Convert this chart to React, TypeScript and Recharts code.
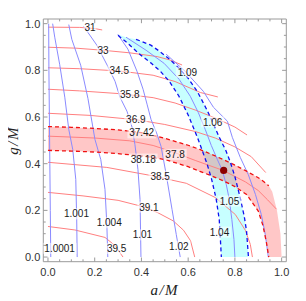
import React from "react";
import { ComposedChart, XAxis, YAxis, Line, Area, Scatter, ReferenceArea } from "recharts";

// ---------------- data ----------------
const tickValues = [0, 0.05, 0.1, 0.15, 0.2, 0.25, 0.3, 0.35, 0.4, 0.45, 0.5, 0.55, 0.6, 0.65, 0.7, 0.75, 0.8, 0.85, 0.9, 0.95, 1.0];
const majorTickValues = [0, 0.2, 0.4, 0.6, 0.8, 1.0];
const majorTickLabels = ["0.0", "0.2", "0.4", "0.6", "0.8", "1.0"];

// red contours (roughly horizontal), [a/M, g/M]
const red31 = [[0, 0.985], [0.136, 0.984], [0.2, 0.979], [0.232, 0.973]];
const red33 = [[0, 0.899], [0.12, 0.895], [0.236, 0.886], [0.35, 0.875], [0.467, 0.859], [0.52, 0.845], [0.574, 0.823]];
const red34_5 = [[0, 0.811], [0.136, 0.807], [0.308, 0.797], [0.45, 0.779], [0.544, 0.752], [0.652, 0.705], [0.727, 0.686]];
const red35_8 = [[0, 0.719], [0.136, 0.712], [0.308, 0.7], [0.45, 0.683], [0.544, 0.66], [0.63, 0.63], [0.72, 0.594], [0.8, 0.557], [0.852, 0.523]];
const red36_9 = [[0, 0.616], [0.18, 0.607], [0.38, 0.588], [0.5, 0.568], [0.63, 0.538], [0.716, 0.51], [0.8, 0.472], [0.87, 0.43], [0.932, 0.362]];
const red37_8 = [[0, 0.518], [0.2, 0.51], [0.35, 0.498], [0.45, 0.478], [0.544, 0.447], [0.63, 0.414], [0.75, 0.371], [0.845, 0.322], [0.9, 0.285], [0.94, 0.245], [0.978, 0.205]];
const red38_5 = [[0, 0.406], [0.252, 0.384], [0.437, 0.35], [0.592, 0.316], [0.716, 0.255], [0.802, 0.182], [0.845, 0.114], [0.866, 0.054], [0.875, 0]];
const red39_1 = [[0, 0.277], [0.15, 0.262], [0.3, 0.243], [0.41, 0.215], [0.47, 0.19], [0.536, 0.155], [0.58, 0.115], [0.61, 0.07], [0.628, 0]];
const red39_5 = [[0, 0.131], [0.115, 0.116], [0.244, 0.084], [0.287, 0.049], [0.321, 0]];

// blue contours (roughly vertical), [a/M, g/M]
const blue1_0001 = [[0.003, 1.0], [0.004, 0.8], [0.006, 0.6], [0.008, 0.4], [0.01, 0.2], [0.012, 0]];
const blue1_001 = [[0.02, 1.0], [0.029, 0.942], [0.05, 0.826], [0.072, 0.685], [0.089, 0.547], [0.106, 0.461], [0.119, 0.333], [0.123, 0.161], [0.125, 0]];
const blue1_004 = [[0.089, 0.996], [0.102, 0.933], [0.14, 0.822], [0.171, 0.68], [0.201, 0.504], [0.226, 0.418], [0.244, 0.29], [0.252, 0.139], [0.256, 0]];
const blue1_01 = [[0.153, 0.988], [0.209, 0.908], [0.256, 0.817], [0.287, 0.753], [0.308, 0.685], [0.338, 0.625], [0.36, 0.556], [0.372, 0.483], [0.385, 0.376], [0.394, 0.247], [0.398, 0]];
const blue1_02 = [[0.299, 0.954], [0.342, 0.891], [0.381, 0.796], [0.407, 0.719], [0.424, 0.655], [0.441, 0.59], [0.467, 0.526], [0.484, 0.474], [0.506, 0.354], [0.531, 0.204], [0.549, 0.097], [0.566, 0]];
const blue1_05 = [[0.334, 0.942], [0.42, 0.886], [0.497, 0.83], [0.561, 0.762], [0.609, 0.689], [0.643, 0.62], [0.673, 0.547], [0.699, 0.478], [0.725, 0.418], [0.746, 0.371], [0.763, 0.311], [0.776, 0.247], [0.787, 0.161], [0.796, 0.075], [0.8, 0]];
const blue1_09 = [[0.506, 0.869], [0.587, 0.796], [0.665, 0.71], [0.708, 0.642], [0.768, 0.582], [0.789, 0.513], [0.823, 0.427], [0.857, 0.354], [0.888, 0.268], [0.913, 0.182], [0.93, 0.097], [0.943, 0]];

// red band: 37.42 (upper) .. 38.18 (lower), closed by the a^2+g^2=1 edge
const pinkX = [0, 0.1, 0.2, 0.3, 0.4, 0.5, 0.6, 0.65, 0.7, 0.75, 0.8, 0.85, 0.9, 0.92, 0.935, 0.945, 0.96, 0.98, 0.995, 1.0];
const pinkLow = [0.457, 0.454, 0.45, 0.443, 0.433, 0.418, 0.387, 0.367, 0.348, 0.327, 0.302, 0.268, 0.197, 0.135, 0.062, 0, 0, 0, 0, 0];
const pinkHigh = [0.559, 0.556, 0.551, 0.545, 0.533, 0.509, 0.479, 0.461, 0.44, 0.418, 0.394, 0.368, 0.34, 0.326, 0.314, 0.305, 0.28, 0.199, 0.1, 0];
const pinkDashEnd = 0.945;

// blue band: 1.04 (lower-left) .. 1.06 (upper-right)
const cyanX = [0.3, 0.34, 0.377, 0.4, 0.44, 0.48, 0.52, 0.56, 0.6, 0.64, 0.68, 0.7, 0.72, 0.733, 0.738, 0.742, 0.76, 0.78, 0.8, 0.82, 0.84, 0.85, 0.858];
const cyanLow = [0.95, 0.917, 0.883, 0.863, 0.832, 0.797, 0.752, 0.69, 0.609, 0.512, 0.402, 0.335, 0.248, 0.161, 0.075, 0, 0, 0, 0, 0, 0, 0, 0];
const cyanHigh = [0.954, 0.94, 0.933, 0.924, 0.908, 0.88, 0.848, 0.81, 0.766, 0.708, 0.631, 0.588, 0.543, 0.513, 0.504, 0.495, 0.46, 0.408, 0.345, 0.265, 0.175, 0.11, 0];
const cyanLowEnd = 0.742;
const cyanHighStart = 0.377;

const bestFit = [[0.752, 0.371]];

const redLabelX = [0.18, 0.236, 0.305, 0.35, 0.376, 0.401, 0.544, 0.408, 0.48, 0.432, 0.294];
const redLabelY = [0.986, 0.887, 0.8, 0.695, 0.59, 0.532, 0.44, 0.42, 0.347, 0.214, 0.036];
const redLabelText = ["31", "33", "34.5", "35.8", "36.9", "37.42", "37.8", "38.18", "38.5", "39.1", "39.5"];
const blueLabelX = [0.05, 0.122, 0.262, 0.404, 0.56, 0.734, 0.777, 0.705, 0.597];
const blueLabelY = [0.037, 0.186, 0.147, 0.095, 0.046, 0.107, 0.24, 0.579, 0.792];
const blueLabelText = ["1.0001", "1.001", "1.004", "1.01", "1.02", "1.04", "1.05", "1.06", "1.09"];

const xTitle = "a/M";
const yTitle = "g/M";

// ---------------- derived tables ----------------
const pts = (a: number[][]) => a.map(([x, y]) => ({ x, y }));
const pinkRows = pinkX.map((x, i) => ({ x, range: [pinkLow[i], pinkHigh[i]] }));
const pinkUpper = pinkX.map((x, i) => ({ x, y: pinkHigh[i] })).filter((p) => p.x <= pinkDashEnd);
const pinkLower = pinkX.map((x, i) => ({ x, y: pinkLow[i] })).filter((p) => p.x <= pinkDashEnd);
const cyanRows = cyanX.map((x, i) => ({ x, range: [cyanLow[i], cyanHigh[i]] }));
const cyanLeft = cyanX.map((x, i) => ({ x, y: cyanLow[i] })).filter((p) => p.x <= cyanLowEnd);
const cyanRight = cyanX.map((x, i) => ({ x, y: cyanHigh[i] })).filter((p) => p.x >= cyanHighStart);
const labelRows = [
  ...redLabelX.map((x, i) => ({ x, y: redLabelY[i], text: redLabelText[i] })),
  ...blueLabelX.map((x, i) => ({ x, y: blueLabelY[i], text: blueLabelText[i] })),
];

const redContours = [red31, red33, red34_5, red35_8, red36_9, red37_8, red38_5, red39_1, red39_5];
const blueContours = [blue1_0001, blue1_001, blue1_004, blue1_01, blue1_02, blue1_05, blue1_09];

// ---------------- layout / style ----------------
const W = 290;
const H = 293;
const PLOT_LEFT = 35.3;
const PLOT_RIGHT = 278.3;
const PLOT_TOP = 11;
const PLOT_BOTTOM = 253.7;
const X_TICK_MARGIN = 5;
const Y_TICK_MARGIN = 3;
const FRAME = "#9a9a9a";
const TICK_TEXT = "#333";
const SANS = "'Liberation Sans', Arial, sans-serif";
const SERIF = "'Liberation Serif', 'Times New Roman', serif";
const RED_LINE = "#ff8080";
const BLUE_LINE = "#8a8aff";
const RED_DASH = "#f01010";
const BLUE_DASH = "#1010f0";

const labelFor = (v: number) => {
  const i = majorTickValues.findIndex((m) => Math.abs(m - v) < 1e-6);
  return i >= 0 ? majorTickLabels[i] : null;
};

const BottomTick = (props: any) => {
  const { x, y, payload } = props;
  const lab = labelFor(payload.value);
  const len = lab ? 4.2 : 2.4;
  const base = y - X_TICK_MARGIN;
  return (
    <g>
      <line x1={x} x2={x} y1={base} y2={base - len} stroke={FRAME} strokeWidth={1} />
      <line x1={x} x2={x} y1={PLOT_TOP} y2={PLOT_TOP + len} stroke={FRAME} strokeWidth={1} />
      {lab && (
        <text x={x} y={y + 1} dy="0.72em" textAnchor="middle" fontSize={11} fontFamily={SANS} fill={TICK_TEXT}>
          {lab}
        </text>
      )}
    </g>
  );
};

const LeftTick = (props: any) => {
  const { x, y, payload } = props;
  const lab = labelFor(payload.value);
  const len = lab ? 4.2 : 2.4;
  const base = x + Y_TICK_MARGIN;
  return (
    <g>
      <line x1={base} x2={base + len} y1={y} y2={y} stroke={FRAME} strokeWidth={1} />
      <line x1={PLOT_RIGHT} x2={PLOT_RIGHT - len} y1={y} y2={y} stroke={FRAME} strokeWidth={1} />
      {lab && (
        <text x={x} y={y} dy="0.36em" textAnchor="end" fontSize={11} fontFamily={SANS} fill={TICK_TEXT}>
          {lab}
        </text>
      )}
    </g>
  );
};

const XTitle = () => (
  <text
    x={(PLOT_LEFT + PLOT_RIGHT) / 2}
    y={287}
    textAnchor="middle"
    fontFamily={SERIF}
    fontStyle="italic"
    fontSize={15}
    letterSpacing={1.5}
    fill="#222"
  >
    {xTitle}
  </text>
);

const YTitle = () => {
  const cx = 10;
  const cy = (PLOT_TOP + PLOT_BOTTOM) / 2;
  return (
    <text
      x={cx}
      y={cy}
      transform={`rotate(-90, ${cx}, ${cy})`}
      textAnchor="middle"
      fontFamily={SERIF}
      fontStyle="italic"
      fontSize={15}
      letterSpacing={1.5}
      fill="#222"
    >
      {yTitle}
    </text>
  );
};

const ContourLabel = (props: any) => {
  const { cx, cy, payload } = props;
  if (cx == null || cy == null || !payload) return <g />;
  const t = String(payload.text);
  const w = t.length * 5.3 + 2;
  return (
    <g>
      <rect x={cx - w / 2} y={cy - 5.5} width={w} height={11} fill="#ffffff" fillOpacity={0.55} />
      <text x={cx} y={cy} dy="0.36em" textAnchor="middle" fontSize={10} fontFamily={SANS} fill="#1a1a1a">
        {t}
      </text>
    </g>
  );
};

const PointShape = (props: any) => {
  const { cx, cy } = props;
  if (cx == null || cy == null) return <g />;
  return <circle cx={cx} cy={cy} r={3.6} fill="#8c0000" />;
};

export default function App() {
  return (
    <ComposedChart
      width={W}
      height={H}
      margin={{ top: PLOT_TOP, right: W - PLOT_RIGHT, bottom: 0, left: 0 }}
    >
      <XAxis
        type="number"
        dataKey="x"
        domain={[-0.02, 1.02]}
        allowDataOverflow
        ticks={tickValues}
        interval={0}
        tick={BottomTick}
        tickLine={false}
        axisLine={false}
        tickSize={0}
        tickMargin={X_TICK_MARGIN}
        height={H - PLOT_BOTTOM}
        label={{ content: () => <XTitle /> }}
      />
      <YAxis
        type="number"
        dataKey="y"
        domain={[-0.02, 1.02]}
        allowDataOverflow
        ticks={tickValues}
        interval={0}
        tick={LeftTick}
        tickLine={false}
        axisLine={false}
        tickSize={0}
        tickMargin={Y_TICK_MARGIN}
        width={PLOT_LEFT}
        label={{ content: () => <YTitle /> }}
      />

      <Area
        data={cyanRows}
        dataKey="range"
        type="linear"
        stroke="none"
        fill="#00ffff"
        fillOpacity={0.22}
        isAnimationActive={false}
        dot={false}
        activeDot={false}
      />
      <Area
        data={pinkRows}
        dataKey="range"
        type="linear"
        stroke="none"
        fill="#ff0000"
        fillOpacity={0.22}
        isAnimationActive={false}
        dot={false}
        activeDot={false}
      />

      {redContours.map((c, i) => (
        <Line
          key={`r${i}`}
          data={pts(c)}
          dataKey="y"
          type="linear"
          stroke={RED_LINE}
          strokeWidth={1}
          dot={false}
          activeDot={false}
          isAnimationActive={false}
        />
      ))}
      {blueContours.map((c, i) => (
        <Line
          key={`b${i}`}
          data={pts(c)}
          dataKey="y"
          type="linear"
          stroke={BLUE_LINE}
          strokeWidth={1}
          dot={false}
          activeDot={false}
          isAnimationActive={false}
        />
      ))}

      <Line data={pinkUpper} dataKey="y" type="linear" stroke={RED_DASH} strokeWidth={1.3} strokeDasharray="4 3" dot={false} activeDot={false} isAnimationActive={false} />
      <Line data={pinkLower} dataKey="y" type="linear" stroke={RED_DASH} strokeWidth={1.3} strokeDasharray="4 3" dot={false} activeDot={false} isAnimationActive={false} />
      <Line data={cyanLeft} dataKey="y" type="linear" stroke={BLUE_DASH} strokeWidth={1.3} strokeDasharray="4 3" dot={false} activeDot={false} isAnimationActive={false} />
      <Line data={cyanRight} dataKey="y" type="linear" stroke={BLUE_DASH} strokeWidth={1.3} strokeDasharray="4 3" dot={false} activeDot={false} isAnimationActive={false} />

      <Scatter data={labelRows} shape={ContourLabel} isAnimationActive={false} />
      <Scatter data={pts(bestFit)} shape={PointShape} isAnimationActive={false} />

      <ReferenceArea x1={-0.02} x2={1.02} y1={-0.02} y2={1.02} fill="none" fillOpacity={0} stroke={FRAME} strokeWidth={1} />
    </ComposedChart>
  );
}
